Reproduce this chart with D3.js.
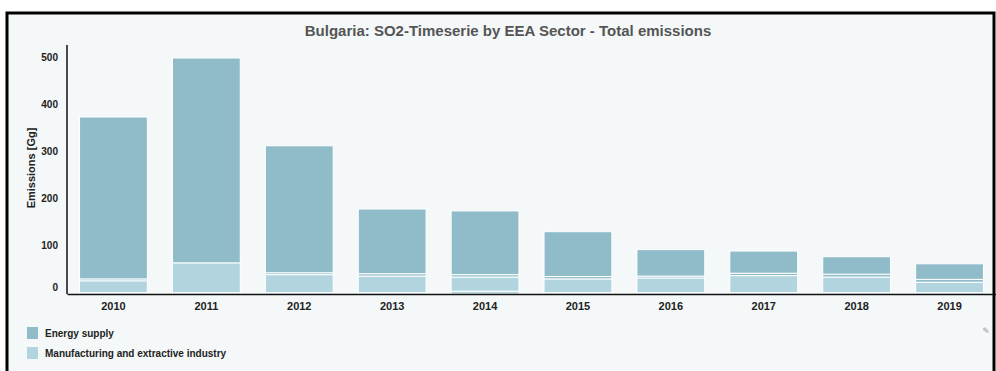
<!DOCTYPE html>
<html>
<head>
<meta charset="utf-8">
<script src="https://cdn.jsdelivr.net/npm/d3@7"></script>
<style>
    body { margin: 0; background: #fff; }
    text { font-family: 'Liberation Sans', Arial, sans-serif; }
</style>
</head>
<body>
<div id="chart"></div>
<script>
var years = ['2010', '2011', '2012', '2013', '2014', '2015', '2016', '2017', '2018', '2019'];
// stacked from the bottom up
var otherSmall = [3, 3, 3, 3, 6, 3, 3, 3, 3, 3];
var manufacturing = [25, 63, 38, 35, 30, 29, 31, 36, 33, 22];
var energyMinor = [4, 0, 4, 5, 5, 5, 4, 5, 6, 6];
var energySupply = [343, 434, 269, 137, 135, 95, 56, 47, 37, 33];
var yTicks = [0, 100, 200, 300, 400, 500];
var legendLabels = ['Energy supply', 'Manufacturing and extractive industry'];

var width = 996;
var height = 371;
var margin = { top: 58, right: 0, bottom: 77, left: 67 };
var colEnergy = '#90bcc9';
var colManuf = '#b1d4df';

var series = [
    { key: 'other', values: otherSmall, color: colManuf },
    { key: 'manufacturing', values: manufacturing, color: colManuf },
    { key: 'energyMinor', values: energyMinor, color: colEnergy },
    { key: 'energy', values: energySupply, color: colEnergy }
];

var rows = years.map(function (y, i) {
    var r = { year: y };
    series.forEach(function (s) { r[s.key] = s.values[i]; });
    return r;
});

var stacked = d3.stack().keys(series.map(s => s.key))(rows);

var x = d3.scaleBand()
    .domain(years)
    .range([margin.left, width])
    .paddingInner(0.27)
    .paddingOuter(0.135);

var y = d3.scaleLinear()
    .domain([0, 500])
    .range([height - margin.bottom, margin.top]);

var svg = d3.select('#chart')
    .append('svg')
    .attr('width', width)
    .attr('height', height);

svg.append('rect')
    .attr('x', 7)
    .attr('y', 13)
    .attr('width', 987)
    .attr('height', 362)
    .attr('fill', '#f4f8f8')
    .attr('stroke', '#000')
    .attr('stroke-width', 3);

svg.append('text')
    .attr('x', 508)
    .attr('y', 36)
    .attr('text-anchor', 'middle')
    .style('font-size', '15px')
    .style('font-weight', 'bold')
    .style('fill', '#555')
    .text('Bulgaria: SO2-Timeserie by EEA Sector - Total emissions');

svg.append('text')
    .attr('transform', 'rotate(-90)')
    .attr('x', -168)
    .attr('y', 35)
    .attr('text-anchor', 'middle')
    .style('font-size', '11px')
    .style('font-weight', 'bold')
    .style('fill', '#222')
    .text('Emissions [Gg]');

var layers = svg.append('g')
    .selectAll('g')
    .data(stacked)
    .join('g')
    .attr('fill', (d, i) => series[i].color);

layers.selectAll('rect')
    .data(d => d.map(v => ({ year: v.data.year, y0: v[0], y1: v[1] })))
    .join('rect')
    .filter(d => d.y1 > d.y0)
    .attr('x', d => x(d.year))
    .attr('width', x.bandwidth())
    .attr('y', d => y(d.y1))
    .attr('height', d => y(d.y0) - y(d.y1))
    .attr('stroke', '#fff')
    .attr('stroke-width', 1);

var yAxis = d3.axisLeft(y).tickValues(yTicks).tickSize(0).tickPadding(9);
var gy = svg.append('g')
    .attr('transform', `translate(${margin.left},0)`)
    .call(yAxis);
gy.select('.domain').remove();
gy.selectAll('text')
    .attr('dy', d => d === 0 ? '-0.35em' : '0.2em')
    .style('font-family', "'Liberation Sans', Arial, sans-serif")
    .style('font-size', '10px')
    .style('font-weight', 'bold')
    .style('fill', '#222');

svg.append('line')
    .attr('x1', margin.left)
    .attr('x2', margin.left)
    .attr('y1', 45)
    .attr('y2', y(0))
    .attr('stroke', '#111')
    .attr('stroke-width', 1.5);

var xAxis = d3.axisBottom(x).tickSize(0).tickPadding(8);
var gx = svg.append('g')
    .attr('transform', `translate(0,${y(0)})`)
    .call(xAxis);
gx.select('.domain').attr('stroke', '#111').attr('stroke-width', 1.5);
gx.selectAll('text')
    .style('font-family', "'Liberation Sans Narrow', 'Liberation Sans', Arial, sans-serif")
    .style('font-size', '11px')
    .style('font-weight', 'bold')
    .style('fill', '#222');

var legend = svg.append('g')
    .selectAll('g')
    .data(legendLabels)
    .join('g')
    .attr('transform', (d, i) => `translate(27,${327 + i * 20})`);

legend.append('rect')
    .attr('width', 11)
    .attr('height', 12)
    .attr('fill', (d, i) => i === 0 ? colEnergy : colManuf);

legend.append('text')
    .attr('x', 18)
    .attr('y', 10)
    .style('font-size', '10px')
    .style('font-weight', 'bold')
    .style('fill', '#222')
    .text(d => d);

svg.append('text')
    .attr('x', 986)
    .attr('y', 334)
    .attr('text-anchor', 'middle')
    .style('font-family', "'DejaVu Sans', sans-serif")
    .style('font-size', '9px')
    .style('fill', '#999')
    .text('✎');
</script>
</body>
</html>
